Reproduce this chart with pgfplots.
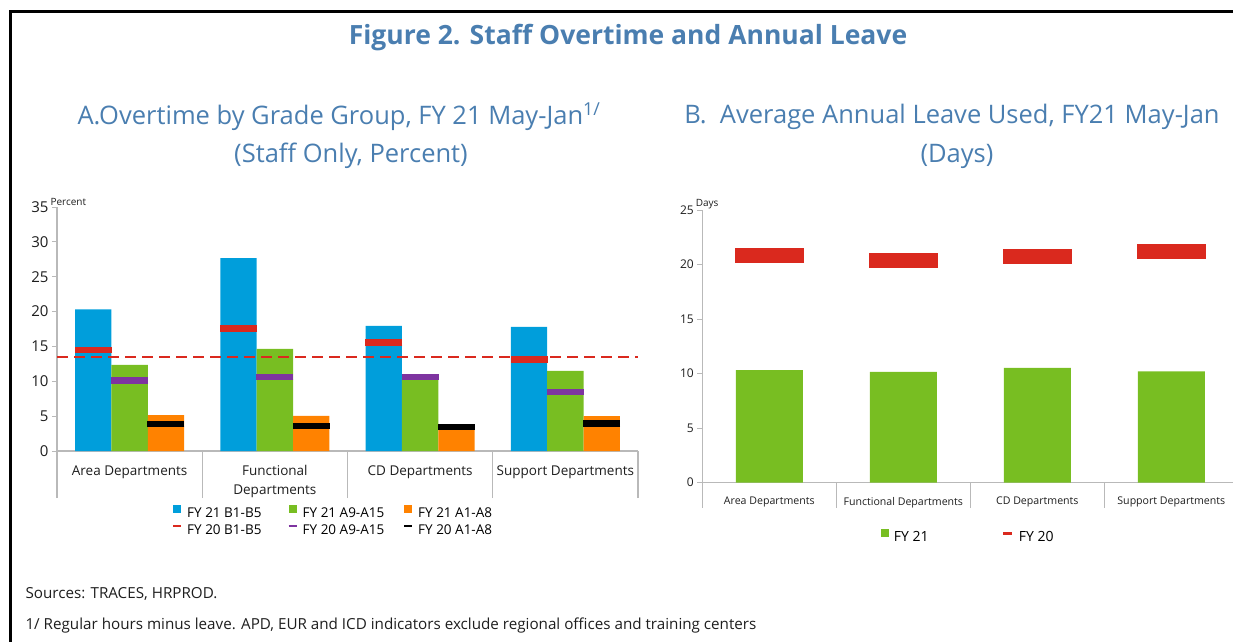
\documentclass[border=0pt]{standalone}
\usepackage{pgfplots}
\pgfplotsset{compat=1.18}
\usepackage{fontspec}
\setmainfont{Open Sans}
\definecolor{blueC}{RGB}{0,158,219}
\definecolor{greenC}{RGB}{120,190,34}
\definecolor{orangeC}{RGB}{255,130,0}
\definecolor{redC}{RGB}{218,41,30}
\definecolor{purpleC}{RGB}{126,52,160}
\definecolor{titleC}{RGB}{74,126,176}
\definecolor{axisC}{RGB}{185,185,185}
\definecolor{textC}{RGB}{30,30,30}
\newcommand{\fs}[1]{\fontsize{#1}{#1}\selectfont}
\pgfplotsset{
  common/.style={
    scale only axis, anchor=south west,
    xmin=-0.5, xmax=3.5, ymin=0,
    axis x line*=bottom, axis y line*=left,
    axis line style={draw=axisC, line width=1.2pt},
    tick align=outside,
    ytick style={draw=axisC, line width=1pt},
    major tick length=5pt,
    xtick={0,1,2,3},
    xtick style={draw=none},
    extra x ticks={-0.5,0.5,1.5,2.5,3.5},
    extra x tick labels={},
    /pgf/number format/assume math mode=true,
    clip=false,
    legend cell align=left,
    ticklabel style={text=textC},
  },
}
\begin{document}
\begin{tikzpicture}[x=1pt,y=1pt]
\useasboundingbox (0,0) rectangle (1233,641);
\draw[line width=2.7pt] (10.7,-5) -- (10.7,629.8) -- (1240,629.8);
\node[font=\fs{26.5}\bfseries, text=titleC] at (628,603) {Figure 2. Staff Overtime and Annual Leave};
\node[font=\fs{25.5}, text=titleC] at (339,524) {A.Overtime by Grade Group, FY 21 May-Jan\textsuperscript{1/}};
\node[font=\fs{25.5}, text=titleC] at (351,485) {(Staff Only, Percent)};
\node[font=\fs{25.5}, text=titleC] at (952,524) {B.\ \ Average Annual Leave Used, FY21 May-Jan};
\node[font=\fs{25.5}, text=titleC] at (957,485) {(Days)};
\node[font=\fs{15.2}, text=textC, anchor=west] at (22,47) {Sources: TRACES, HRPROD.};
\node[font=\fs{15.2}, text=textC, anchor=west] at (22,15) {1/ Regular hours minus leave. APD, EUR and ICD indicators exclude regional offices and training centers};

% ---------------- Panel A
\begin{axis}[common,
  at={(57pt,190pt)}, width=581pt, height=244pt,
  ymax=35, ytick={0,5,...,35},
  yticklabel style={font=\fs{15}},
  xticklabels={Area Departments,{Functional\\Departments},CD Departments,Support Departments},
  xticklabel style={font=\fontsize{13.5}{19}\selectfont, align=center, anchor=north, yshift=-6pt},
  extra x tick style={xtick style={draw=axisC, line width=1.2pt}, major tick length=47pt},
  legend columns=3,
  legend style={at={(0.198,-0.22)}, anchor=north west, draw=none, fill=none,
    font=\fs{13.5}, inner sep=0pt, row sep=2pt,
    /tikz/every odd column/.append style={column sep=3pt}},
]
\addplot[ybar, bar width=0.25, bar shift=-0.25, fill=blueC, draw=none,
  legend image code/.code={\fill[blueC] (0pt,0pt) rectangle (8pt,8pt);}]
  coordinates {(0,20.3) (1,27.65) (2,17.95) (3,17.8)};
\addlegendentry{\makebox[98.5pt][l]{FY 21 B1-B5}}
\addplot[ybar, bar width=0.25, bar shift=0, fill=greenC, draw=none,
  legend image code/.code={\fill[greenC] (0pt,0pt) rectangle (8pt,8pt);}]
  coordinates {(0,12.35) (1,14.65) (2,10.5) (3,11.5)};
\addlegendentry{\makebox[98.5pt][l]{FY 21 A9-A15}}
\addplot[ybar, bar width=0.25, bar shift=0.25, fill=orangeC, draw=none,
  legend image code/.code={\fill[orangeC] (0pt,0pt) rectangle (8pt,8pt);}]
  coordinates {(0,5.15) (1,5.05) (2,3.0) (3,5.0)};
\addlegendentry{\makebox[98.5pt][l]{FY 21 A1-A8}}
\addplot[redC, line width=2pt, dash pattern=on 11pt off 6pt, forget plot]
  coordinates {(-0.5,13.55) (3.5,13.55)};
\addplot[only marks, mark=-, mark size=18.5pt, mark options={draw=redC, line width=6.5pt},
  legend image code/.code={\draw[redC, line width=2pt] (0pt,4pt) -- (8pt,4pt);}]
  coordinates {(-0.25,14.5) (0.75,17.55) (1.75,15.6) (2.75,13.15)};
\addlegendentry{\makebox[98.5pt][l]{FY 20 B1-B5}}
\addplot[only marks, mark=-, mark size=18.5pt, mark options={draw=purpleC, line width=6.5pt},
  legend image code/.code={\draw[purpleC, line width=2pt] (0pt,4pt) -- (8pt,4pt);}]
  coordinates {(0,10.1) (1,10.65) (2,10.65) (3,8.45)};
\addlegendentry{\makebox[98.5pt][l]{FY 20 A9-A15}}
\addplot[only marks, mark=-, mark size=18.5pt, mark options={draw=black, line width=6.5pt},
  legend image code/.code={\draw[black, line width=2pt] (0pt,4pt) -- (8pt,4pt);}]
  coordinates {(0.25,3.85) (1.25,3.6) (2.25,3.45) (3.25,3.95)};
\addlegendentry{\makebox[98.5pt][l]{FY 20 A1-A8}}
\node[font=\fs{10}, text=textC, anchor=base west] at (rel axis cs:0,1) [xshift=-10pt, yshift=2pt] {Percent};
\end{axis}

% ---------------- Panel B
\begin{axis}[common,
  at={(702.3pt,158.3pt)}, width=536pt, height=272.7pt,
  ymax=25, ytick={0,5,...,25},
  yticklabel style={font=\fs{12}},
  xticklabels={Area Departments,Functional Departments,CD Departments,Support Departments},
  xticklabel style={font=\fs{10.6}, anchor=north, yshift=-6pt},
  extra x tick style={xtick style={draw=axisC, line width=1.2pt}, major tick length=25pt},
  legend columns=2,
  legend style={at={(0.333,-0.2)}, anchor=west, draw=none, fill=none,
    font=\fs{14}, inner sep=0pt,
    /tikz/every odd column/.append style={column sep=3pt}},
]
\addplot[ybar, bar width=0.5, bar shift=0, fill=greenC, draw=none,
  legend image code/.code={\fill[greenC] (0pt,0pt) rectangle (8pt,8pt);}]
  coordinates {(0,10.33) (1,10.15) (2,10.52) (3,10.2)};
\addlegendentry{\makebox[106pt][l]{FY 21}}
\addplot[only marks, mark=-, mark size=34.5pt, mark options={draw=redC, line width=15pt},
  legend image code/.code={\draw[redC, line width=3pt] (0pt,4pt) -- (9pt,4pt);}]
  coordinates {(0,20.8) (1,20.4) (2,20.78) (3,21.24)};
\addlegendentry{FY 20}
\node[font=\fs{10}, text=textC, anchor=base west] at (rel axis cs:0,1) [xshift=-10pt, yshift=4pt] {Days};
\end{axis}
\end{tikzpicture}
\end{document}
